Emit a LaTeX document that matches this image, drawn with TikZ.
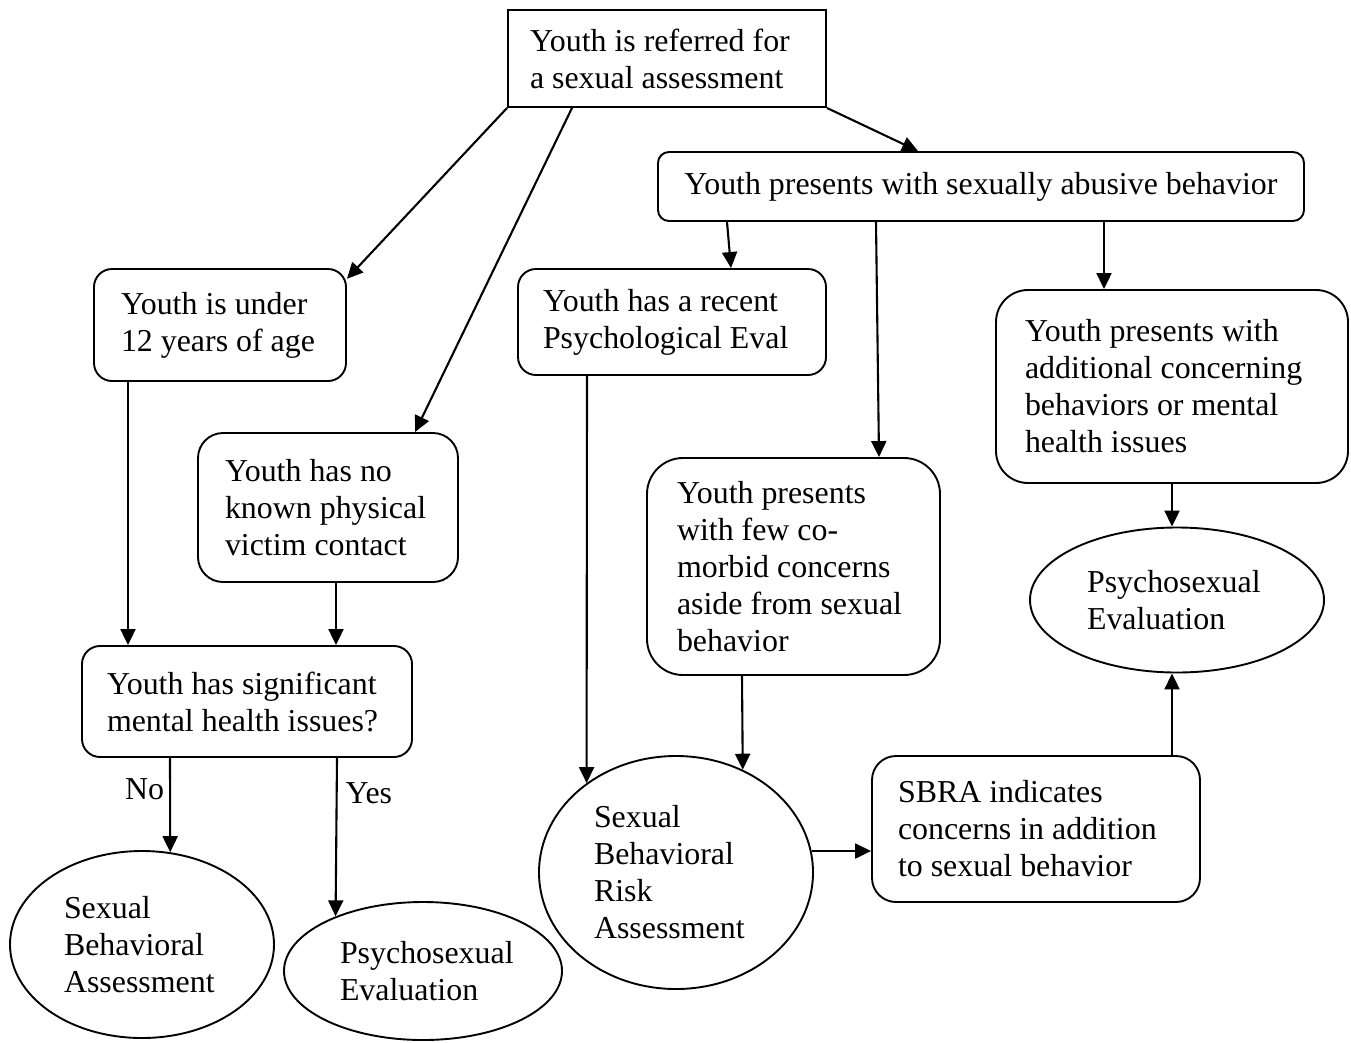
\documentclass[tikz,border=0pt]{standalone}
\usepackage{fontspec}
\setmainfont{Liberation Serif}
\usetikzlibrary{arrows.meta,shapes.geometric}
\begin{document}
\begin{tikzpicture}[x=1pt,y=-1pt,
  every node/.style={font=\fontsize{31.9}{37}\selectfont, inner sep=0pt},
  box/.style={draw, line width=1.9pt, align=flush left},
  oval/.style={draw, line width=1.9pt, ellipse, align=flush left},
  arr/.style={line width=2.1pt, -{Triangle[length=16pt,width=15pt]}},
  lbl/.style={inner sep=5pt}]
\useasboundingbox (0,0) rectangle (1351,1042);
% boxes
\node[box, text width=274pt, minimum width=318pt, minimum height=97pt] (top) at (667,58.5) {Youth~is~referred~for\\a~sexual~assessment};
\node[box, rounded corners=11pt, align=center, minimum width=646pt, minimum height=69pt] (abuse) at (981,186.5) {Youth presents with sexually abusive behavior};
\node[box, rounded corners=18pt, text width=198pt, minimum width=252pt, minimum height=112pt] (under) at (220,325) {Youth~is~under\\12~years~of~age};
\node[box, rounded corners=18pt, text width=258pt, minimum width=308pt, minimum height=106pt] (psych) at (672,322) {Youth~has~a~recent\\Psychological~Eval};
\node[box, rounded corners=32pt, text width=294pt, minimum width=352pt, minimum height=193pt] (addl) at (1172,386.5) {Youth~presents~with\\additional~concerning\\behaviors~or~mental\\health~issues};
\node[box, rounded corners=25pt, text width=206pt, minimum width=260pt, minimum height=149pt] (noknown) at (328,507.5) {Youth~has~no\\known~physical\\victim~contact};
\node[box, rounded corners=36pt, text width=233pt, minimum width=293pt, minimum height=217pt] (comorbid) at (793.5,566.5) {Youth~presents\\with~few~co-\\morbid~concerns\\aside~from~sexual\\behavior};
\node[oval, text width=180pt, minimum width=294pt, minimum height=145pt] (rpsy) at (1177,600) {Psychosexual\\Evaluation};
\node[box, rounded corners=18pt, text width=280pt, minimum width=330pt, minimum height=111pt] (signif) at (247,701.5) {Youth~has~significant\\mental~health~issues?};
\node[oval, text width=164pt, minimum width=274pt, minimum height=233pt] (sbra) at (676,872.5) {Sexual\\Behavioral\\Risk\\Assessment};
\node[box, rounded corners=24pt, text width=276pt, minimum width=328pt, minimum height=146pt] (sbrabox) at (1036,829) {SBRA~indicates\\concerns~in~addition\\to~sexual~behavior};
\node[oval, text width=156pt, minimum width=264pt, minimum height=187pt] (sba) at (142,944.5) {Sexual\\Behavioral\\Assessment};
\node[oval, text width=166pt, minimum width=278pt, minimum height=138pt] (mpsy) at (423,971) {Psychosexual\\Evaluation};
% connectors
\draw[arr] (top.south west) -- (under.20);
\draw[arr] ([xshift=-95pt]top.south) -- ([xshift=87pt]noknown.north);
\draw[arr] (top.south east) -- ([xshift=-63pt]abuse.north);
\draw[arr] ([xshift=-254pt]abuse.south) -- ([xshift=59pt]psych.north);
\draw[arr] ([xshift=-105pt]abuse.south) -- ([xshift=85.5pt]comorbid.north);
\draw[arr] ([xshift=123pt]abuse.south) -- ([xshift=-68pt]addl.north);
\draw[arr] ([xshift=-92pt]under.south) -- ([xshift=-119pt]signif.north);
\draw[arr] ([xshift=8pt]noknown.south) -- ([xshift=89pt]signif.north);
\draw[arr] ([xshift=-77pt]signif.south) -- node[pos=0.33, left, lbl] (no) {No} (sba.73);
\draw[arr] ([xshift=90pt]signif.south) -- node[pos=0.22, right, lbl, inner sep=8pt] (yes) {Yes} (mpsy.148);
\draw[arr] ([xshift=-85pt]psych.south) -- (sbra.135);
\draw[arr] ([xshift=-51.5pt]comorbid.south) -- (sbra.57.6);
\draw[arr] (sbra.9.5) -- (sbra.9.5 -| sbrabox.west);
\draw[arr] ([xshift=136pt]sbrabox.north) -- ([xshift=-5pt]rpsy.south);
\draw[arr] (addl.south) -- ([xshift=-5pt]rpsy.north);
\end{tikzpicture}
\end{document}
